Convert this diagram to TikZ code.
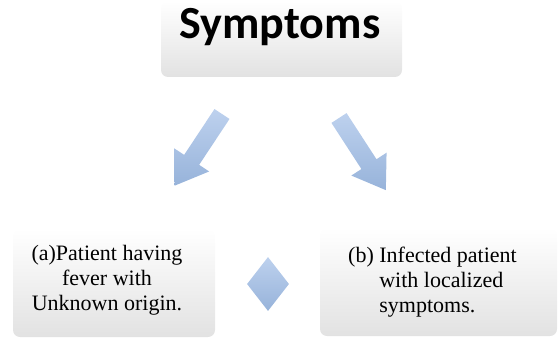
\documentclass[tikz,border=0pt]{standalone}
\usepackage{fontspec}
\setmainfont{Liberation Serif}
\newfontfamily\headfont{Carlito}
\usetikzlibrary{shapes.geometric}
\definecolor{panelgray}{HTML}{E2E2E2}
\definecolor{blueup}{HTML}{BDD1EE}
\definecolor{bluedown}{HTML}{97B3DA}
\tikzset{
  panel/.style={rounded corners=7pt, top color=white, middle color=white, bottom color=panelgray},
  bluefill/.style={top color=blueup, bottom color=bluedown},
  caseText/.style={font=\fontsize{22}{25}\selectfont}
}
\begin{document}
\begin{tikzpicture}[x=1pt,y=1pt]
  \useasboundingbox (0,0) rectangle (559,338);
  % top box
  \node[panel, minimum width=241pt, minimum height=76pt] (symp) at (281.5,299) {};
  \node[font=\headfont\bfseries\fontsize{46}{50}\selectfont] (symptitle) at (280,311) {Symptoms};

  % block arrows
  \shade[bluefill, shift={(222,224)}, rotate=236.5]
    (0,9) -- (55,9) -- (55,21) -- (86,0) -- (55,-21) -- (55,-9) -- (0,-9) -- cycle;
  \shade[bluefill, shift={(339,220)}, rotate=-57]
    (0,9) -- (55,9) -- (55,21) -- (86,0) -- (55,-21) -- (55,-9) -- (0,-9) -- cycle;

  % bottom boxes
  \node[panel, minimum width=202pt, minimum height=108pt] (caseA) at (114,55) {};
  \node[panel, minimum width=237pt, minimum height=108pt] (caseB) at (438.5,56) {};
  \node[caseText, align=center] (caseAtext) at (107,58)
    {(a)Patient having\\fever with\\Unknown origin.};
  \node[caseText, anchor=west, inner sep=0pt] (caseBtext) at (348,56)
    {\begin{tabular}{@{}l@{ }l@{}}(b)&Infected patient\\&with localized\\&symptoms.\end{tabular}};

  % diamond
  \node[diamond, bluefill, minimum width=42pt, minimum height=54pt, inner sep=0pt] (sep) at (268,54) {};
\end{tikzpicture}
\end{document}
